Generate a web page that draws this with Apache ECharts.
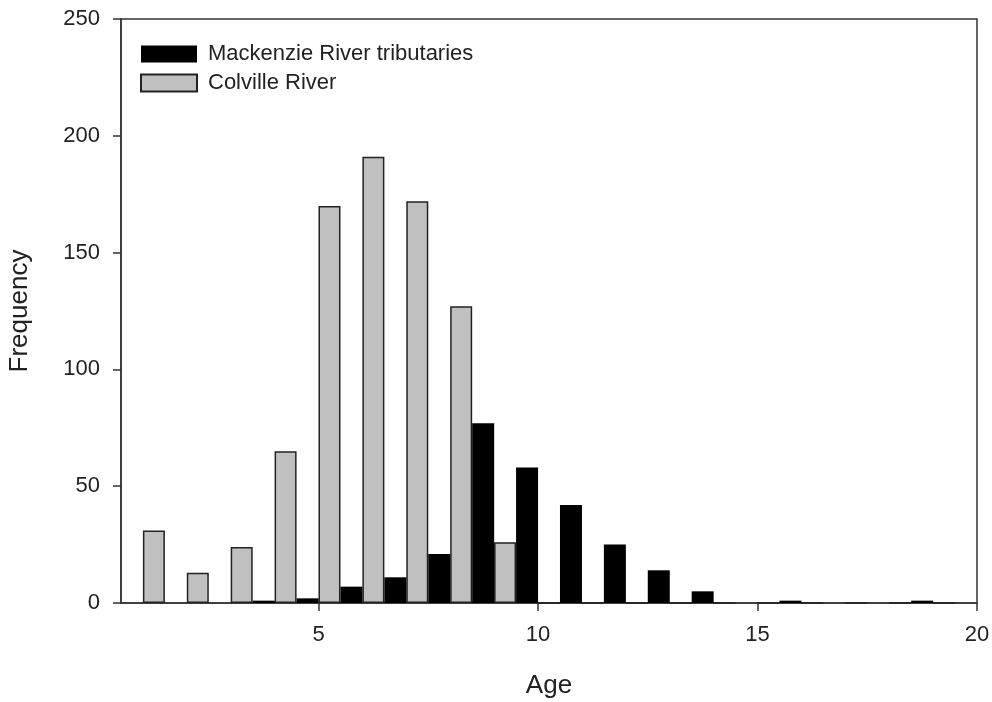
<!DOCTYPE html>
<html>
<head>
<meta charset="utf-8">
<title>Age frequency</title>
<script src="https://cdn.jsdelivr.net/npm/echarts@6/dist/echarts.min.js"></script>
<style>
  html, body { margin: 0; padding: 0; background: #fff; }
  #main { width: 992px; height: 702px; }
</style>
</head>
<body>
<div id="main"></div>
<script>
// age classes (bins are [age, age+1])
var ages = [1, 2, 3, 4, 5, 6, 7, 8, 9, 10, 11, 12, 13, 14, 15, 16, 17, 18, 19];
var colville = [31, 13, 24, 65, 170, 191, 172, 127, 26, 0, 0, 0, 0, 0, 0, 0, 0, 0, 0];
var mackenzie = [0, 0, 1, 2, 7, 11, 21, 77, 58, 42, 25, 14, 5, 0, 1, 0, 0, 1, 0];
var xTicks = [5, 10, 15, 20];
var yTicks = [0, 50, 100, 150, 200, 250];

function pairs(vals) {
  return ages.map(function (a, i) { return [a + 0.5, vals[i]]; });
}

var font = 'Liberation Sans, Arial, sans-serif';
var ink = '#222';

var myChart = echarts.init(document.getElementById('main'));

var option = {
  animation: false,
  backgroundColor: '#fff',
  grid: {
    left: 121, right: 15, top: 19, bottom: 99,
    containLabel: false,
    outerBoundsMode: 'none',
    show: true,
    borderColor: '#333',
    borderWidth: 1.5,
    backgroundColor: 'transparent'
  },
  legend: {
    orient: 'vertical',
    left: 140,
    top: 42,
    padding: 0,
    itemWidth: 56,
    itemHeight: 17,
    itemGap: 5,
    icon: 'rect',
    data: ['Mackenzie River tributaries', 'Colville River'],
    textStyle: { fontFamily: font, fontSize: 22, color: ink, lineHeight: 24, padding: [0, 0, 0, 6] }
  },
  xAxis: {
    type: 'value',
    min: 0.5,
    max: 20,
    name: 'Age',
    nameLocation: 'middle',
    nameGap: 70,
    nameTextStyle: { fontFamily: font, fontSize: 26, color: ink },
    axisLine: { show: true, onZero: false, lineStyle: { color: '#333', width: 1.5 } },
    axisTick: { show: true, inside: false, length: 8, customValues: xTicks, lineStyle: { color: '#333', width: 1.5 } },
    axisLabel: { customValues: xTicks, margin: 21, fontFamily: font, fontSize: 22, color: ink },
    splitLine: { show: false }
  },
  yAxis: {
    type: 'value',
    min: 0,
    max: 250,
    interval: 50,
    name: 'Frequency',
    nameLocation: 'middle',
    nameGap: 88,
    nameTextStyle: { fontFamily: font, fontSize: 26, color: ink },
    axisLine: { show: true, lineStyle: { color: '#333', width: 1.5 } },
    axisTick: { show: true, inside: false, length: 8, customValues: yTicks, lineStyle: { color: '#333', width: 1.5 } },
    axisLabel: { margin: 21, fontFamily: font, fontSize: 22, color: ink },
    splitLine: { show: false }
  },
  series: [
    {
      name: 'Colville River',
      type: 'bar',
      barWidth: 22,
      barGap: '0%',
      data: pairs(colville),
      itemStyle: { color: '#c0c0c0', borderColor: '#222', borderWidth: 1.5 }
    },
    {
      name: 'Mackenzie River tributaries',
      type: 'bar',
      barWidth: 22,
      barGap: '0%',
      data: pairs(mackenzie),
      itemStyle: { color: '#000', borderColor: '#000', borderWidth: 0 }
    }
  ]
};
myChart.setOption(option);
</script>
</body>
</html>
